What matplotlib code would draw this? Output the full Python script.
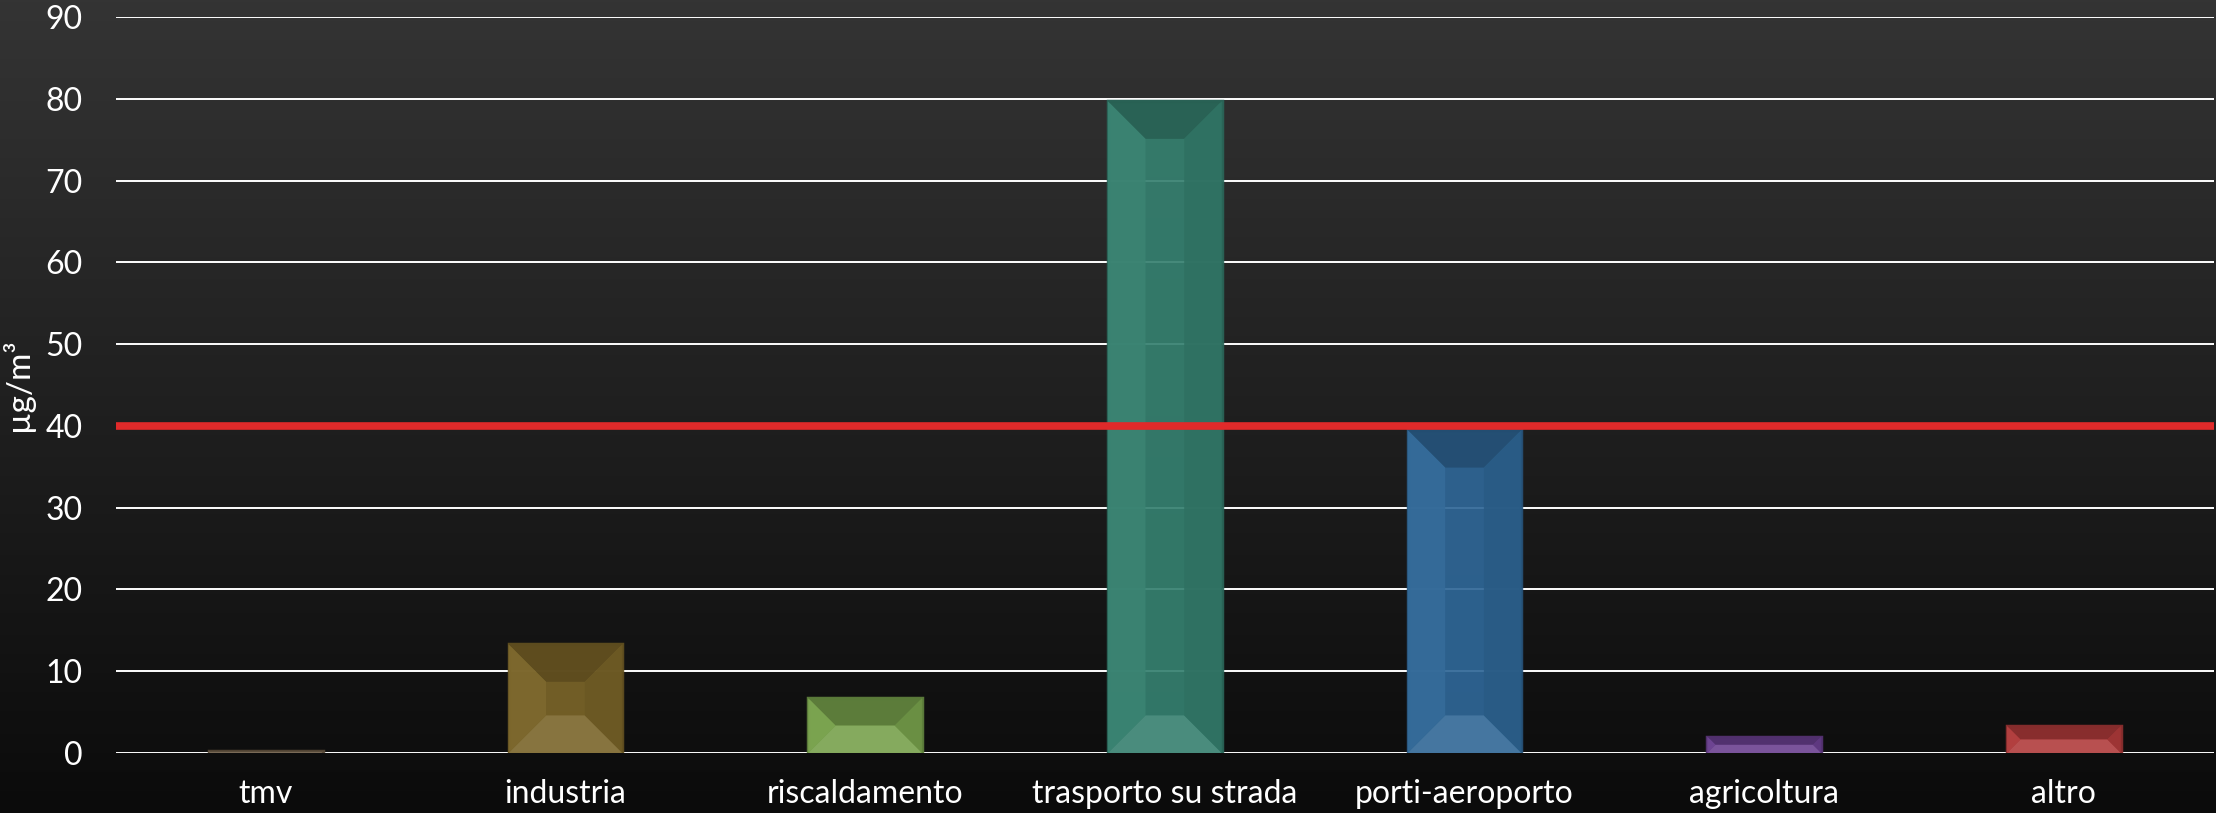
import numpy as np
import matplotlib.pyplot as plt
from matplotlib.patches import Polygon
from matplotlib.colors import to_rgb, LinearSegmentedColormap

# data
categories = ['tmv', 'industria', 'riscaldamento', 'trasporto su strada',
              'porti-aeroporto', 'agricoltura', 'altro']
values = [0.3, 13.3, 6.7, 79.7, 39.5, 2.0, 3.3]
bar_colors = ['#6b5a45', '#7a6428', '#78a24c', '#35806f', '#2f6797', '#6b4091', '#b23b3b']
limit_value = 40
yticks = [0, 10, 20, 30, 40, 50, 60, 70, 80, 90]

plt.rcParams['font.family'] = ['Lato', 'DejaVu Sans']

fig = plt.figure(figsize=(22.16, 8.13), dpi=100)

# dark vertical gradient background
bg = fig.add_axes([0, 0, 1, 1], zorder=-10)
grad = np.linspace(0, 1, 256).reshape(-1, 1)
bg.imshow(grad, aspect='auto', cmap=LinearSegmentedColormap.from_list('bg', ['#343434', '#0b0b0b']),
          extent=[0, 1, 0, 1])
bg.set_axis_off()

ax = fig.add_axes([0.0523, 0.0738, 0.9467, 0.9052])
ax.set_facecolor('none')
x = np.arange(len(categories))
width = 0.38
ax.set_xlim(-0.5, len(categories) - 0.5)
ax.set_ylim(0, 90)

ax.set_yticks(yticks)
ax.yaxis.grid(True, color='white', linewidth=1.4, zorder=0)
ax.set_axisbelow(True)
for s in ax.spines.values():
    s.set_visible(False)
ax.tick_params(length=0, colors='white', labelsize=23)
ax.tick_params(axis='y', pad=24)
ax.tick_params(axis='x', pad=19)
ax.set_xticks(x)
ax.set_xticklabels(categories)
ax.set_ylabel('µg/m³', color='white', fontsize=24, labelpad=8)


def shade(c, f):
    r = np.array(to_rgb(c))
    if f < 1:
        return tuple(r * f)
    return tuple(r + (1 - r) * (f - 1))


bars = ax.bar(x, values, width=width, color=bar_colors, alpha=0.92, zorder=2,
              edgecolor=[shade(c, 0.8) for c in bar_colors], linewidth=2.5)

# bevel faces drawn from each bar's own extent
to_px = ax.transData
to_data = ax.transData.inverted()
for b, c in zip(bars, bar_colors):
    x0, y0 = b.get_x(), b.get_y()
    x1, y1 = x0 + b.get_width(), y0 + b.get_height()
    (px0, py0), (px1, py1) = to_px.transform([(x0, y0), (x1, y1)])
    bev = min(0.33 * (px1 - px0), 0.5 * (py1 - py0))
    (ix0, iy0), (ix1, iy1) = to_data.transform([(px0 + bev, py0 + bev), (px1 - bev, py1 - bev)])
    faces = [
        ([(x0, y1), (x1, y1), (ix1, iy1), (ix0, iy1)], shade(c, 0.75)),  # top
        ([(x0, y0), (x1, y0), (ix1, iy0), (ix0, iy0)], shade(c, 1.12)),  # bottom
        ([(x0, y0), (ix0, iy0), (ix0, iy1), (x0, y1)], shade(c, 1.03)),  # left
        ([(x1, y0), (ix1, iy0), (ix1, iy1), (x1, y1)], shade(c, 0.88)),  # right
    ]
    for pts, fc in faces:
        ax.add_patch(Polygon(pts, closed=True, facecolor=fc, edgecolor='none',
                             alpha=0.9, zorder=3))

ax.axhline(limit_value, color='#e02a2a', linewidth=5.5, zorder=5)

fig.savefig('out.png', dpi=100)
